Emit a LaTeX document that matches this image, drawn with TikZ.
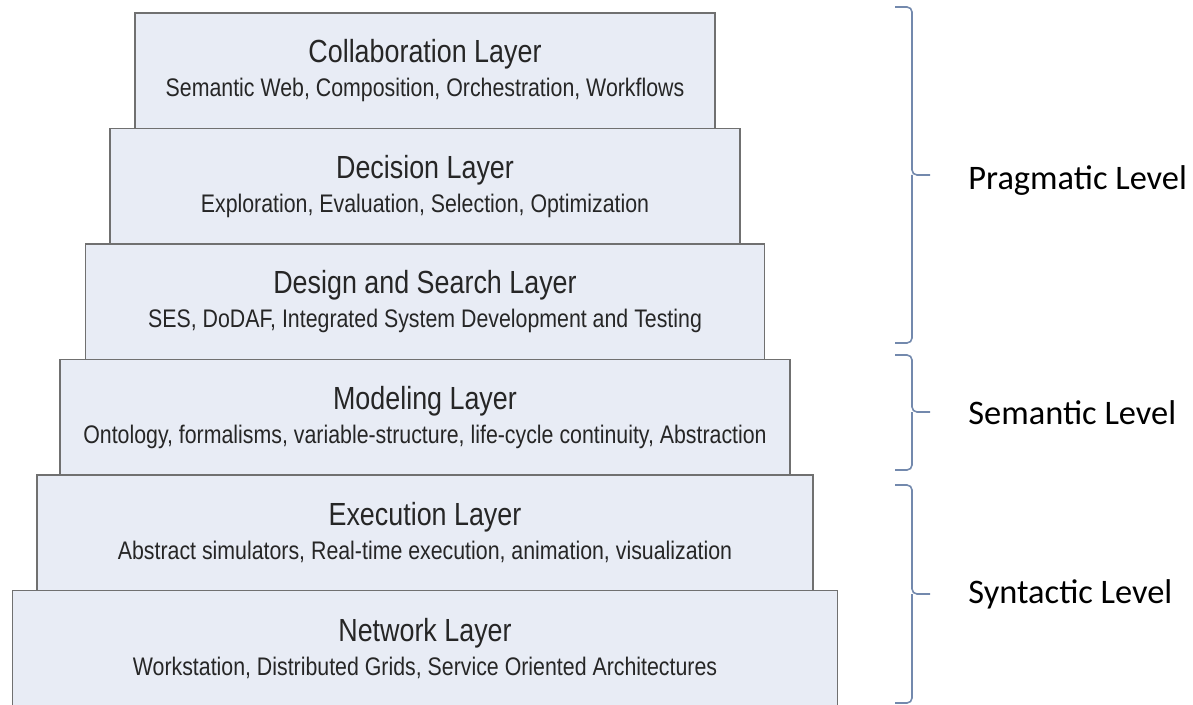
\documentclass[tikz,border=0pt]{standalone}
\usepackage{fontspec}
\setmainfont{Liberation Sans}
\newfontfamily\boxfont[FakeStretch=0.84]{Liberation Sans}
\newfontfamily\levelfont{Carlito}
\usepackage{tikz}
\usetikzlibrary{positioning}
\definecolor{layerfill}{HTML}{E8ECF5}
\definecolor{layerdraw}{HTML}{707070}
\definecolor{bracecol}{HTML}{7389AD}
\newcommand{\ltitle}[1]{{\fontsize{16}{19}\selectfont #1}}
\tikzstyle{layer}=[rectangle,draw=layerdraw,fill=layerfill,line width=0.8pt,
  minimum height=57.75pt,outer sep=0pt,align=center,text=black!85,
  font=\boxfont\fontsize{12.7}{17}\selectfont]
\tikzstyle{levelbrace}=[draw=bracecol,line width=0.8pt,rounded corners=2.5pt]
\tikzstyle{levellabel}=[anchor=west,inner sep=0pt,font=\levelfont\fontsize{17.2}{20}\selectfont]

\begin{document}
\begin{tikzpicture}[x=0.5pt,y=-0.5pt,node distance=0pt]
    \useasboundingbox (0,0) rectangle (1193,705);

          \node[layer,minimum width=290pt,anchor=north] (l_1) at (425,13)
            {\ltitle{Collaboration Layer}\\Semantic Web, Composition, Orchestration, Workflows};
          \node[layer,minimum width=315pt] (l_2) [below=of l_1]
            {\ltitle{Decision Layer}\\Exploration, Evaluation, Selection, Optimization};
          \node[layer,minimum width=339.5pt] (l_3) [below=of l_2]
            {\ltitle{Design and Search Layer}\\SES, DoDAF, Integrated System Development and Testing};
          \node[layer,minimum width=365pt] (l_4) [below=of l_3]
            {\ltitle{Modeling Layer}\\Ontology, formalisms, variable-structure, life-cycle continuity, Abstraction};
          \node[layer,minimum width=388pt] (l_5) [below=of l_4]
            {\ltitle{Execution Layer}\\Abstract simulators, Real-time execution, animation, visualization};
          \node[layer,minimum width=412.5pt] (l_6) [below=of l_5]
            {\ltitle{Network Layer}\\Workstation, Distributed Grids, Service Oriented Architectures};

          % levels
          \coordinate (prag_a) at (895,7);
          \coordinate (prag_m) at (912,175);
          \coordinate (prag_b) at (895,343);
          \coordinate (sem_a)  at (895,355);
          \coordinate (sem_m)  at (912,412);
          \coordinate (sem_b)  at (895,470);
          \coordinate (syn_a)  at (895,485);
          \coordinate (syn_m)  at (912,594);
          \coordinate (syn_b)  at (895,703);

          \draw[levelbrace] (prag_a) -| (prag_m) -- ++(18,0);
          \draw[levelbrace] (prag_b) -| (prag_m);
          \draw[levelbrace] (sem_a) -| (sem_m) -- ++(18,0);
          \draw[levelbrace] (sem_b) -| (sem_m);
          \draw[levelbrace] (syn_a) -| (syn_m) -- ++(18,0);
          \draw[levelbrace] (syn_b) -| (syn_m);

          \node[levellabel] (prag) at (968,181) {Pragmatic Level};
          \node[levellabel] (sem)  at (968,413) {Semantic Level};
          \node[levellabel] (syn)  at (968,594) {Syntactic Level};
        \end{tikzpicture}
\end{document}
